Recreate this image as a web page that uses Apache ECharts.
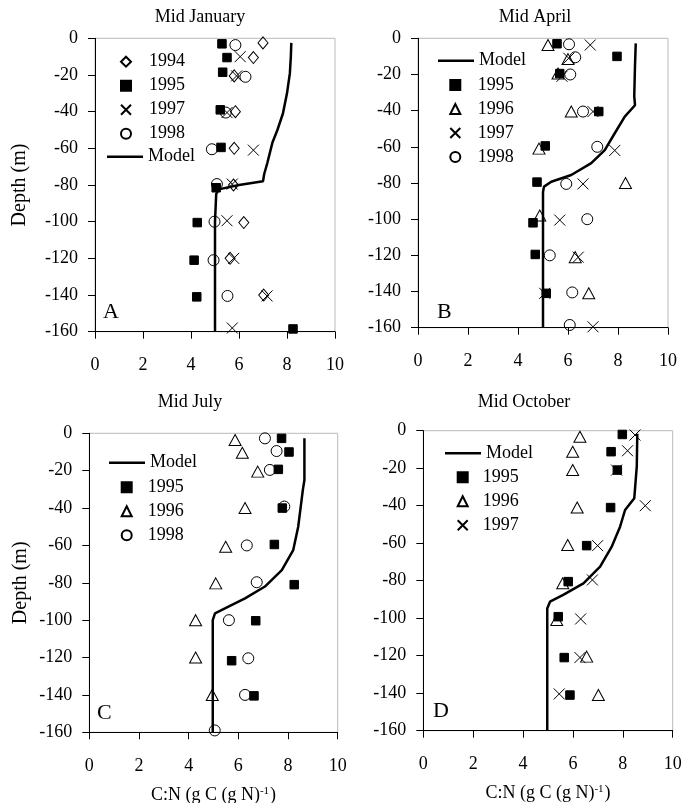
<!DOCTYPE html>
<html><head><meta charset="utf-8">
<script src="https://cdn.jsdelivr.net/npm/echarts/dist/echarts.min.js"></script>
<style>html,body{margin:0;padding:0;background:#fff}#c{width:699px;height:803px}</style>
</head><body><div id="c"></div>
<script>
// ---------- DATA (C:N value, depth m) ----------
const xTicks = [0, 2, 4, 6, 8, 10];
const yTicks = [0, -20, -40, -60, -80, -100, -120, -140, -160];
const panelTitles = ['Mid January', 'Mid April', 'Mid July', 'Mid October'];
const panelLetters = ['A', 'B', 'C', 'D'];

// Mid January
const jan1994 = [[7.0,-2.5],[6.6,-10.5],[5.8,-20.5],[5.85,-40],[5.8,-60],[5.77,-80],[6.2,-100.5],[5.63,-120],[7.03,-140]];
const jan1995 = [[5.29,-3],[5.5,-10.5],[5.32,-18.5],[5.22,-39],[5.25,-59.5],[5.05,-81.5],[4.26,-100.5],[4.13,-121],[4.24,-141],[8.25,-158.5]];
const jan1997 = [[6.05,-10],[5.9,-20.5],[5.5,-40.5],[6.6,-61],[5.72,-79.5],[5.5,-99.5],[5.78,-120],[7.17,-140.5],[5.72,-158]];
const jan1998 = [[5.85,-3.7],[6.27,-21],[5.45,-40.5],[4.87,-60.5],[5.08,-79.5],[4.98,-100],[4.94,-121],[5.52,-140.5]];
const janModel = [[8.18,-2.5],[8.16,-10],[8.12,-19],[8.0,-30],[7.83,-41],[7.6,-50],[7.39,-57],[7.18,-68],[7.05,-74],[7.0,-78],[6.0,-80],[5.15,-82.4],[5.05,-85],[5.0,-100],[5.0,-160]];

// Mid April
const apr1995 = [[5.56,-3],[7.96,-10],[5.67,-19.5],[7.23,-40.5],[5.09,-59.5],[4.76,-79.5],[4.6,-102],[4.69,-119.5],[5.13,-141]];
const apr1996 = [[5.2,-3.7],[6.0,-11.5],[5.6,-19.5],[6.13,-40.5],[4.84,-61],[8.3,-80],[4.87,-98],[6.29,-121],[6.83,-141]];
const apr1997 = [[6.89,-3.7],[6.03,-11],[5.76,-21],[7.0,-40.5],[7.87,-62],[6.6,-80.5],[5.67,-100.5],[6.41,-121],[5.07,-141],[7.0,-159.5]];
const apr1998 = [[6.04,-3.3],[6.29,-10.5],[6.09,-20],[6.6,-40.5],[7.17,-60],[5.93,-80.5],[6.77,-100],[5.27,-120],[6.17,-140.5],[6.07,-158.5]];
const aprModel = [[8.71,-2.8],[8.68,-15],[8.65,-32],[8.68,-37],[8.27,-43.3],[7.87,-52.5],[7.47,-61.8],[6.93,-69],[6.13,-75.6],[5.33,-79.3],[5.04,-82],[5.0,-85],[5.0,-160]];

// Mid July
const jul1995 = [[7.74,-2.7],[8.04,-10],[7.61,-19.3],[7.77,-40],[7.45,-59.5],[8.25,-81],[6.7,-100.3],[5.73,-121.7],[6.63,-140.5]];
const jul1996 = [[5.87,-3.6],[6.16,-10.4],[6.78,-20.5],[6.27,-40],[5.49,-60.7],[5.09,-80.3],[4.28,-100],[4.28,-120],[4.95,-140]];
const jul1998 = [[7.07,-2.7],[7.54,-9.5],[7.27,-19.6],[7.85,-39.2],[6.34,-60],[6.74,-79.7],[5.62,-100],[6.4,-120.4],[6.27,-140],[5.05,-159]];
const julModel = [[8.66,-2.7],[8.66,-25],[8.6,-30],[8.41,-50],[8.21,-62.5],[7.75,-73.2],[7.07,-82],[6.27,-88.3],[5.46,-93.7],[5.06,-96.3],[4.97,-100],[4.97,-160]];

// Mid October
const oct1995 = [[7.98,-2],[7.53,-11.2],[7.78,-21],[7.51,-41],[6.55,-61.3],[5.81,-80.5],[5.41,-99.2],[5.65,-121],[5.88,-141]];
const oct1996 = [[6.28,-3.2],[5.99,-11.2],[5.99,-21],[6.17,-41],[5.79,-61],[5.59,-81.4],[5.35,-101],[6.55,-120.5],[7.02,-141]];
const oct1997 = [[8.49,-2.3],[8.19,-10.7],[7.75,-21],[8.9,-40],[6.99,-61.3],[6.78,-79.6],[6.31,-100.4],[6.28,-121],[5.45,-140.4]];
const octModel = [[8.58,-1.6],[8.56,-19],[8.46,-36],[8.09,-42.3],[7.89,-51.2],[7.55,-62],[7.09,-72.5],[6.42,-81.4],[5.61,-87.6],[5.08,-91.2],[4.97,-94.8],[4.97,-160]];

const legendYears = [
  ['1994','1995','1997','1998'],
  ['1995','1996','1997','1998'],
  ['1995','1996','1998'],
  ['1995','1996','1997']
];
const panelSeries = [
  {'1994': jan1994, '1995': jan1995, '1997': jan1997, '1998': jan1998, 'Model': janModel},
  {'1995': apr1995, '1996': apr1996, '1997': apr1997, '1998': apr1998, 'Model': aprModel},
  {'1995': jul1995, '1996': jul1996, '1998': jul1998, 'Model': julModel},
  {'1995': oct1995, '1996': oct1996, '1997': oct1997, 'Model': octModel}
];

// ---------- STYLE / LAYOUT ----------
const FONT = '"Liberation Serif", "Times New Roman", serif';
const SYM = {
  '1994': {symbol: 'diamond', size: [10, 12], fill: 'rgba(0,0,0,0)'},
  '1995': {symbol: 'rect', size: 8.5, fill: '#000'},
  '1996': {symbol: 'triangle', size: [12, 11], fill: 'rgba(0,0,0,0)'},
  '1997': {symbol: 'path://M0,0L10,10M10,0L0,10', size: 11, fill: 'rgba(0,0,0,0)'},
  '1998': {symbol: 'circle', size: 11, fill: 'rgba(0,0,0,0)'}
};
const grids = [
  {left: 95, top: 38.3, width: 240, height: 293.4},
  {left: 418, top: 38.3, width: 250, height: 289.4},
  {left: 89.3, top: 433.3, width: 248.4, height: 299},
  {left: 423.3, top: 430.7, width: 249.4, height: 300}
];
const titlePos = [
  {x: 200, y: 8}, {x: 535, y: 8}, {x: 190, y: 393}, {x: 524, y: 393}
];
const letterPos = [
  {x: 103, y: 301}, {x: 437, y: 301}, {x: 97, y: 702}, {x: 433, y: 700}
];
// model legend: line left/top ; marker legend: symbol center x, first row top, text start x
const modelLegendPos = [
  {left: 107, top: 147.7}, {left: 438, top: 51.7}, {left: 109, top: 453.7}, {left: 445, top: 444.3}
];
const markerLegendPos = [
  {cx: 125, top: 52.7, textX: 148}, {cx: 454.3, top: 76, textX: 476.7},
  {cx: 125.7, top: 478.3, textX: 146.7}, {cx: 461.7, top: 468.3, textX: 481.7}
];

const chart = echarts.init(document.getElementById('c'), null, {renderer: 'canvas'});

const option = {
  animation: false,
  backgroundColor: '#fff',
  title: [], legend: [], grid: [], xAxis: [], yAxis: [], series: []
};

const xName = '{a|C:N (g C (g N)}{s|-1}{a|)}';
const ICON = 10;

grids.forEach((g, i) => {
  option.grid.push(Object.assign({show: true, borderColor: '#bbb', borderWidth: 1,
    containLabel: false, outerBoundsMode: 'none'}, g));
  option.title.push({text: panelTitles[i], left: titlePos[i].x, top: titlePos[i].y, textAlign: 'center', padding: 0,
    textStyle: {fontFamily: FONT, fontSize: 18, fontWeight: 'normal', color: '#000'}});
  option.title.push({text: panelLetters[i], left: letterPos[i].x, top: letterPos[i].y, padding: 0,
    textStyle: {fontFamily: FONT, fontSize: 22, fontWeight: 'normal', color: '#000'}});
  const bottomRow = i >= 2;
  option.xAxis.push({
    type: 'value', gridIndex: i, min: xTicks[0], max: xTicks[xTicks.length - 1], interval: xTicks[1] - xTicks[0],
    position: 'bottom',
    axisLine: {show: true, onZero: false, lineStyle: {color: '#000', width: 1}},
    axisTick: {show: true, inside: false, length: 7, lineStyle: {color: '#000'}},
    splitLine: {show: false},
    axisLabel: {color: '#000', fontFamily: FONT, fontSize: 18, margin: 25},
    name: bottomRow ? xName : '', nameLocation: 'middle', nameGap: 52,
    nameTextStyle: {fontFamily: FONT, color: '#000', rich: {
      a: {fontFamily: FONT, fontSize: 18, color: '#000', lineHeight: 22},
      s: {fontFamily: FONT, fontSize: 11, color: '#000', verticalAlign: 'bottom', padding: [0, 1, 10, 0]}
    }}
  });
  option.yAxis.push({
    type: 'value', gridIndex: i, min: yTicks[yTicks.length - 1], max: yTicks[0], interval: yTicks[0] - yTicks[1],
    axisLine: {show: true, onZero: false, lineStyle: {color: '#000', width: 1}},
    axisTick: {show: true, inside: false, length: 7, lineStyle: {color: '#000'}},
    splitLine: {show: false},
    axisLabel: {color: '#000', fontFamily: FONT, fontSize: 18, margin: 17},
    name: (i % 2 === 0) ? 'Depth (m)' : '', nameLocation: 'middle', nameGap: i === 0 ? 65 : 59,
    nameRotate: 90,
    nameTextStyle: {fontFamily: FONT, fontSize: 20, color: '#000'}
  });
  // Model legend (line icon)
  option.legend.push({
    data: [{name: 'Model', icon: 'rect', itemStyle: {color: '#000', borderWidth: 0}}],
    orient: 'vertical', left: modelLegendPos[i].left, top: modelLegendPos[i].top,
    padding: 0, itemWidth: 36, itemHeight: 2.5, selectedMode: false,
    textStyle: {fontFamily: FONT, fontSize: 18, color: '#000', lineHeight: 18}
  });
  // Marker legend
  const mp = markerLegendPos[i];
  const lft = mp.cx - ICON / 2;
  option.legend.push({
    data: legendYears[i], orient: 'vertical', left: lft, top: mp.top,
    padding: 0, itemWidth: ICON, itemHeight: ICON, itemGap: 6, selectedMode: false,
    textStyle: {fontFamily: FONT, fontSize: 18, color: '#000', lineHeight: 18,
      padding: [0, 0, 0, mp.textX - (lft + ICON + 5)]}
  });
  const sers = panelSeries[i];
  Object.keys(sers).forEach(name => {
    if (name === 'Model') {
      option.series.push({type: 'line', name: 'Model', xAxisIndex: i, yAxisIndex: i, data: sers[name],
        symbol: 'none', smooth: false, z: 2, silent: true,
        lineStyle: {color: '#000', width: 2.5}, itemStyle: {color: '#000'}});
    } else {
      const s = SYM[name];
      option.series.push({type: 'scatter', name, xAxisIndex: i, yAxisIndex: i, data: sers[name],
        symbol: s.symbol, symbolSize: s.size, z: 3, silent: true,
        itemStyle: {color: s.fill, borderColor: '#000', borderWidth: 1, opacity: 1}});
    }
  });
});

chart.setOption(option);
</script></body></html>
